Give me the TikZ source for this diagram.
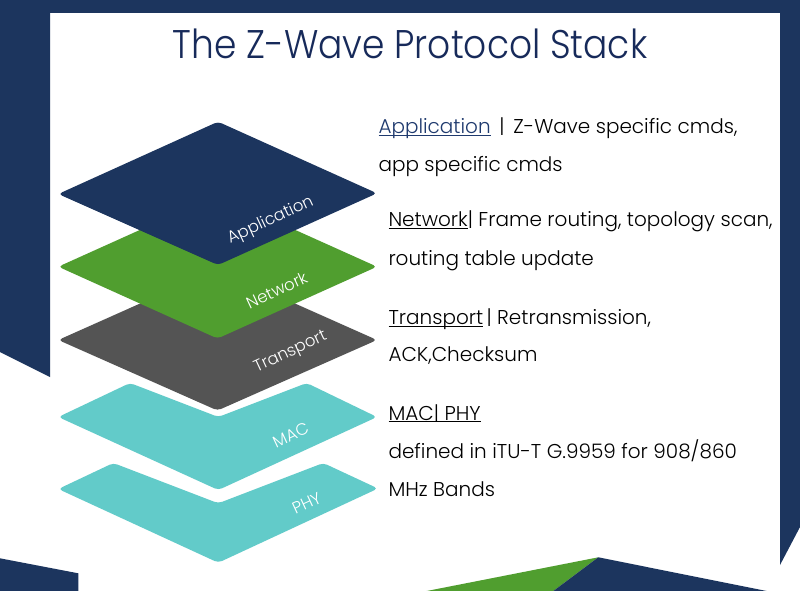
\documentclass[tikz,border=0pt]{standalone}
\usepackage{fontspec}
\IfFontExistsTF{Poppins Light}{\setmainfont{Poppins Light}}{\setmainfont{Poppins}}
\IfFontExistsTF{Poppins Light}{\newfontfamily\titlefont[FakeStretch=0.9]{Poppins Light}}{\newfontfamily\titlefont[FakeStretch=0.9]{Poppins}}
\definecolor{navy}{HTML}{1C355E}
\definecolor{titleblue}{HTML}{172A5A}
\definecolor{linkblue}{HTML}{1F3A6E}
\definecolor{zgreen}{HTML}{509E2F}
\definecolor{zgray}{HTML}{545454}
\definecolor{zteal}{HTML}{62CBC9}
\newcommand\ulx[1]{\leavevmode\setbox0\hbox{#1}\rlap{\rule[-2.2pt]{\wd0}{0.9pt}}\box0}
\begin{document}
\begin{tikzpicture}[x=1pt,y=-1pt,
  layer/.style={rounded corners=4pt},
  lbl/.style={text=white,font=\fontsize{16.5}{19}\selectfont,rotate=25,inner sep=0pt},
  desc/.style={anchor=base west,inner sep=0pt,font=\fontsize{20}{24}\selectfont,text=black},
  ttl/.style={anchor=base,inner sep=0pt,font=\titlefont\fontsize{40}{46}\selectfont,text=titleblue}
]
\useasboundingbox (0,0) rectangle (800,591);
% background
\fill[white] (0,0) rectangle (800,591);
\fill[navy] (0,0) rectangle (800,13.3);
\fill[navy] (0,0) -- (50,0) -- (50,377) -- (0,352) -- cycle;
\fill[navy] (780,0) -- (800,0) -- (800,527) -- (780,565) -- cycle;
\fill[navy] (0,558.3) -- (78.3,573.3) -- (78.3,591) -- (0,591) -- cycle;
\fill[zgreen] (426.7,591) -- (598.3,557.3) -- (553.3,591) -- cycle;
\fill[navy] (553.3,591) -- (598.3,557.3) -- (766.7,591) -- cycle;
% title
\node[ttl] (title) at (410,58.3) {The Z-Wave Protocol Stack};
% layers
\fill[zteal,layer] (58.3,489) -- (113.3,463) -- (218.3,503.3) -- (323.3,463) -- (378,488.5) -- (218.3,562.7) -- cycle;
\fill[zteal,layer] (58.3,417) -- (130,383) -- (218.3,417) -- (306.7,383) -- (377,417) -- (218.3,490) -- cycle;
\fill[zgray,layer] (58.3,340) -- (217.5,269) -- (377,340) -- (217.5,410.5) -- cycle;
\fill[zgreen,layer] (58.3,266.7) -- (217.5,195) -- (377,266.7) -- (217.5,338.5) -- cycle;
\fill[navy,layer] (58.3,194) -- (218,121.7) -- (377,193.3) -- (218,265) -- cycle;
% layer labels
\node[lbl] (lapp) at (270.7,220.7) {Application};
\node[lbl] (lnet) at (276.7,290) {Network};
\node[lbl] (ltra) at (290.7,352.7) {Transport};
\node[lbl] (lmac) at (290.7,435) {MAC};
\node[lbl] (lphy) at (306.7,503.3) {PHY};
% descriptions
\node[desc] (d1) at (378.3,133.3) {\textcolor{linkblue}{\ulx{Application}}\ \,|\ \,Z-Wave specific cmds,};
\node[desc] (d2) at (378.3,171.7) {app specific cmds};
\node[desc] (d3) at (388.3,226.7) {\ulx{Network}|\ Frame routing, topology scan,};
\node[desc] (d4) at (388.3,265.7) {routing table update};
\node[desc] (d5) at (388.3,324.3) {\ulx{Transport}\,|\ Retransmission,};
\node[desc] (d6) at (388.3,361.7) {ACK,Checksum};
\node[desc] (d7) at (388.3,420) {\ulx{MAC|\ PHY}};
\node[desc] (d8) at (388.3,458.3) {defined in iTU-T G.9959 for 908/860};
\node[desc] (d9) at (388.3,496.7) {MHz Bands};
\end{tikzpicture}
\end{document}
